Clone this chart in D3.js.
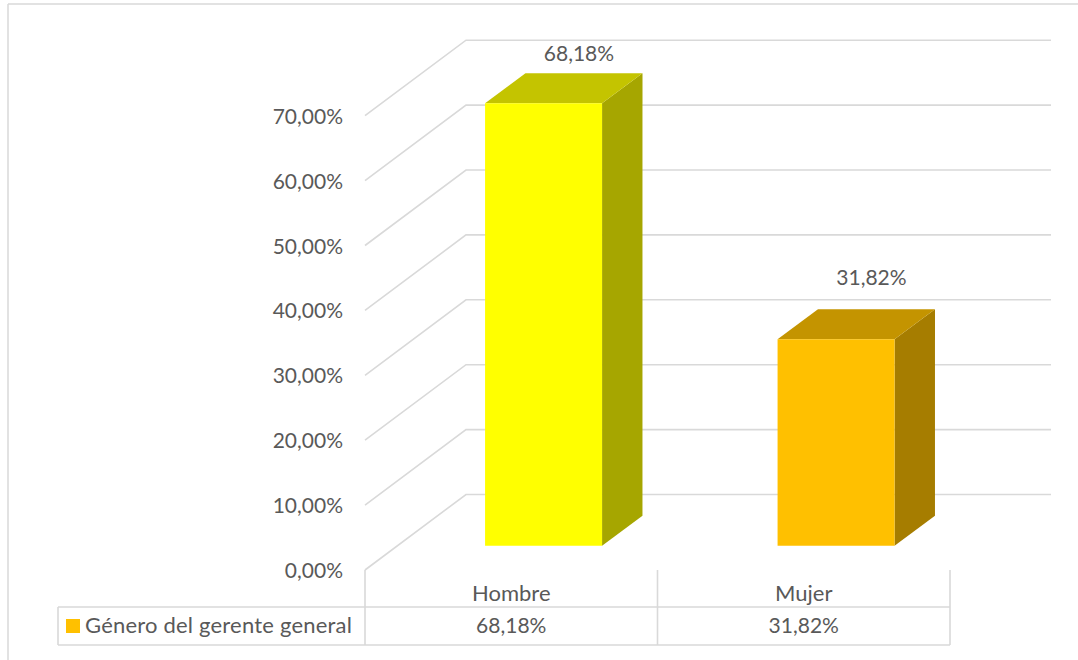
<!DOCTYPE html>
<html>
<head>
<meta charset="utf-8">
<script src="https://cdn.jsdelivr.net/npm/d3@7"></script>
<style>
  html, body { margin: 0; padding: 0; background: #ffffff; }
  svg { display: block; }
  text { font-family: Lato, "Open Sans", sans-serif; fill: #595959; }
</style>
</head>
<body>
<svg id="chart" width="1078" height="660"></svg>
<script>
// Data
const categories = ["Hombre", "Mujer"];
const values = [68.18, 31.82];
const yTicks = [0, 10, 20, 30, 40, 50, 60, 70];
const seriesName = "Género del gerente general";
const frontColors = ["#FFFF00", "#FFC000"];
const legendColor = "#FFC000";

// Spanish number formatting (comma decimal)
const esLocale = d3.formatLocale({ decimal: ",", thousands: ".", grouping: [3], currency: ["", "€"] });
const fmt2 = esLocale.format(".2f");
const pct = v => fmt2(v) + "%";

const svg = d3.select("#chart");
const gridColor = "#d9d9d9";
const fontSize = 21;
const wordSize = 22;

// Front plane of the 3D box
const x = d3.scaleBand().domain(categories).range([365, 950]).paddingInner(0).paddingOuter(0);
const y = d3.scaleLinear().domain([0, 70]).range([570, 115.7]);

// Depth projection: f = 0 at the front, 1 at the back wall
const depthX = 101, depthY = -75.5;
const proj = (px, py, f) => [px + f * depthX, py + f * depthY];
const backRight = 1051;

// Chart frame
svg.append("line").attr("x1", 8).attr("y1", 4).attr("x2", 1078).attr("y2", 4)
  .attr("stroke", gridColor).attr("stroke-width", 1.5);
svg.append("line").attr("x1", 8).attr("y1", 4).attr("x2", 8).attr("y2", 660)
  .attr("stroke", gridColor).attr("stroke-width", 1.5);

// Gridlines: side wall diagonal + back wall horizontal
const grid = svg.append("g").attr("fill", "none").attr("stroke", gridColor).attr("stroke-width", 1.6);
yTicks.forEach(v => {
  const p0 = [x.range()[0], y(v)];
  const p1 = proj(p0[0], p0[1], 1);
  grid.append("path").attr("d", d3.line()([p0, p1, [backRight, p1[1]]]));
});

// Y axis labels
const yAxis = d3.axisLeft(y).tickValues(yTicks).tickFormat(pct).tickSize(0).tickPadding(22);
const gy = svg.append("g").attr("transform", `translate(${x.range()[0]},0)`).call(yAxis);
gy.select(".domain").remove();
gy.selectAll("text").style("font-size", fontSize + "px").style("font-family", "Lato, sans-serif")
  .attr("fill", "#595959").attr("dy", "0.36em");

// 3D bars
const barW = x.bandwidth() / 2.5;
const f1 = 0.32, f2 = 0.72;
const shade = (c, k) => { const r = d3.rgb(c); return d3.rgb(r.r * k, r.g * k, r.b * k).formatHex(); };

const bars = svg.append("g");
categories.forEach((c, i) => {
  const cx = x(c) + x.bandwidth() / 2;
  const xl = cx - barW / 2, xr = cx + barW / 2;
  const yb = y(0), yt = y(values[i]);
  const A = proj(xl, yt, f1), B = proj(xr, yt, f1), C = proj(xr, yb, f1), D = proj(xl, yb, f1);
  const A2 = proj(xl, yt, f2), B2 = proj(xr, yt, f2), C2 = proj(xr, yb, f2);
  const poly = pts => "M" + pts.map(p => p.join(",")).join("L") + "Z";
  // side face
  bars.append("path").attr("d", poly([B, B2, C2, C])).attr("fill", shade(frontColors[i], 0.65));
  // top face
  bars.append("path").attr("d", poly([A, A2, B2, B])).attr("fill", shade(frontColors[i], 0.77));
  // front face
  bars.append("path").attr("d", poly([A, B, C, D])).attr("fill", frontColors[i]);
});

// Data labels above the bars
const labelLift = [12, 24];
categories.forEach((c, i) => {
  const cx = x(c) + x.bandwidth() / 2;
  const topBack = proj(cx, y(values[i]), f2);
  svg.append("text").attr("x", topBack[0] - 5).attr("y", topBack[1] - labelLift[i])
    .attr("text-anchor", "middle").style("font-size", fontSize + "px").text(pct(values[i]));
});

// Data table under the plot
const tableTop = 607, tableBottom = 645, legendLeft = 58;
const tbl = svg.append("g").attr("stroke", gridColor).attr("stroke-width", 1.6);
const colEdges = [x.range()[0]].concat(categories.map(c => x(c) + x.bandwidth()));
colEdges.forEach(cx => {
  tbl.append("line").attr("x1", cx).attr("x2", cx).attr("y1", y(0)).attr("y2", tableBottom);
});
tbl.append("line").attr("x1", legendLeft).attr("x2", x.range()[1]).attr("y1", tableTop).attr("y2", tableTop);
tbl.append("line").attr("x1", legendLeft).attr("x2", x.range()[1]).attr("y1", tableBottom).attr("y2", tableBottom);
tbl.append("line").attr("x1", legendLeft).attr("x2", legendLeft).attr("y1", tableTop).attr("y2", tableBottom);

categories.forEach((c, i) => {
  const cx = x(c) + x.bandwidth() / 2;
  svg.append("text").attr("x", cx).attr("y", 601).attr("text-anchor", "middle")
    .style("font-size", wordSize + "px").text(c);
  svg.append("text").attr("x", cx).attr("y", 633).attr("text-anchor", "middle")
    .style("font-size", fontSize + "px").text(pct(values[i]));
});

// Legend key inside the table
svg.append("rect").attr("x", 66).attr("y", 619).attr("width", 14).attr("height", 14).attr("fill", legendColor);
svg.append("text").attr("x", 85).attr("y", 633).style("font-size", wordSize + "px")
  .style("letter-spacing", "0.2px").text(seriesName);
</script>
</body>
</html>
